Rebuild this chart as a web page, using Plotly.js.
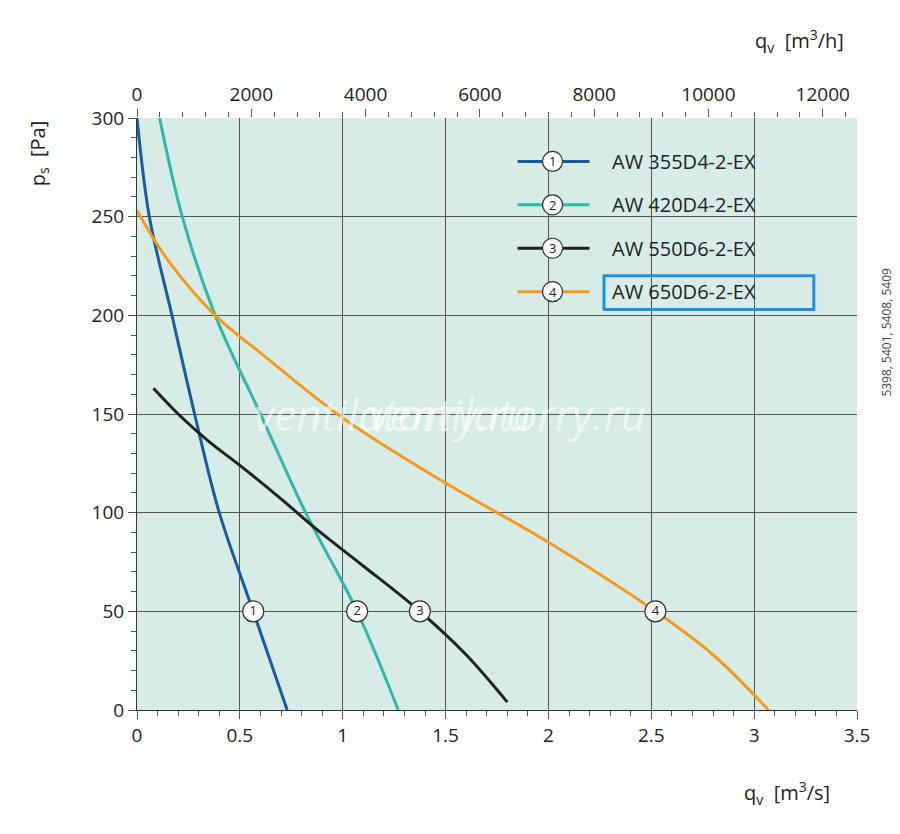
<!DOCTYPE html>
<html>
<head>
<meta charset="utf-8">
<script src="https://cdn.plot.ly/plotly-3.0.1.min.js"></script>
<style>body{margin:0;background:#fff}#chart{width:900px;height:834px}</style>
</head>
<body>
<div id="chart"></div>
<script>
// curve data: q_v [m3/s], p_s [Pa]
const names = ["AW 355D4-2-EX", "AW 420D4-2-EX", "AW 550D6-2-EX", "AW 650D6-2-EX"];
const colors = ["#1a5b9c", "#2fb8a8", "#222222", "#f39a1e"];
const q1 = [0.0, 0.06, 0.17, 0.28, 0.40, 0.565, 0.73];
const p1 = [300, 250, 200, 150, 100, 50, 0];
const q2 = [0.11, 0.22, 0.38, 0.60, 0.82, 1.07, 1.27];
const p2 = [300, 250, 200, 150, 100, 50, 0];
const q3 = [0.08, 0.2, 0.35, 0.5, 0.7, 0.88, 1.1, 1.375, 1.6, 1.8];
const p3 = [163, 150, 136, 124, 107, 91, 73, 50, 28, 4];
const q4 = [0.0, 0.15, 0.38, 0.6, 1.0, 1.5, 2.0, 2.52, 2.8, 3.07];
const p4 = [253, 228, 200, 181, 148, 115, 85, 50, 28, 0];
const labelQ = [0.565, 1.07, 1.375, 2.52];
const labelP = [50, 50, 50, 50];
const legendP = [278, 256, 234, 212];

const qs = [q1, q2, q3, q4], ps = [p1, p2, p3, p4];
const traces = qs.map((q, i) => ({
  x: q, y: ps[i], type: "scatter", mode: "lines",
  line: {color: colors[i], width: 3, shape: "spline"}, showlegend: false
}));
traces.push({
  x: labelQ, y: labelP, type: "scatter", mode: "markers+text",
  text: ["1", "2", "3", "4"], textposition: "middle center",
  textfont: {family: "Open Sans", size: 13, color: "#222"},
  marker: {size: 21, color: "#fff", line: {color: "#333", width: 1.2}},
  showlegend: false, cliponaxis: false
});
// legend rows
const shapes = [], annotations = [];
legendP.forEach((p, i) => {
  shapes.push({type: "line", x0: 1.85, x1: 2.2, y0: p, y1: p, line: {color: colors[i], width: 3}});
  shapes.push({type: "circle", xsizemode: "pixel", ysizemode: "pixel", xanchor: 2.02, yanchor: p,
    x0: -10, x1: 10, y0: -10, y1: 10, fillcolor: "#fff", line: {color: "#333", width: 1.2}});
  annotations.push({x: 2.02, y: p, text: String(i + 1), showarrow: false,
    font: {family: "Open Sans", size: 13, color: "#222"}});
  annotations.push({x: 2.3, y: p, xanchor: "left", text: names[i], showarrow: false,
    font: {family: "Open Sans", size: 20, color: "#222"}});
});
shapes.push({type: "rect", x0: 2.27, x1: 3.29, y0: 203, y1: 220, line: {color: "#1e90e0", width: 3}});
annotations.push({xref: "paper", yref: "paper", x: 1.055, y: 0.75, text: "5398, 5401, 5408, 5409",
  textangle: -90, showarrow: false, font: {family: "Open Sans", size: 12, color: "#444"}});
[0.16, 0.71].forEach(x => annotations.push({xref: "paper", yref: "paper", x: x, y: 0.5,
  text: "<i>ventilatorry.ru</i>", showarrow: false,
  font: {family: "Open Sans", size: 44, color: "rgba(255,255,255,0.6)"}}));
annotations.push({xref: "paper", yref: "paper", x: 0.965, y: -0.17, xanchor: "right",
  text: "q<sub>v</sub>  [m<sup>3</sup>/s]", showarrow: false, font: {family: "Open Sans", size: 20, color: "#222"}});
annotations.push({xref: "paper", yref: "paper", x: 0.985, y: 1.16, xanchor: "right",
  text: "q<sub>v</sub>  [m<sup>3</sup>/h]", showarrow: false, font: {family: "Open Sans", size: 20, color: "#222"}});
annotations.push({xref: "paper", yref: "paper", x: -0.16, y: 1.0, yanchor: "top", textangle: -90,
  text: "p<sub>s</sub>  [Pa]", showarrow: false, font: {family: "Open Sans", size: 20, color: "#222"}});
traces.push({x: [0], y: [0], xaxis: "x2", mode: "markers", marker: {opacity: 0}, showlegend: false, hoverinfo: "skip"});

const axFont = {family: "Open Sans", size: 19, color: "#222"};
const layout = {
  width: 900, height: 834,
  margin: {l: 137, r: 43, t: 118, b: 124},
  paper_bgcolor: "#fff", plot_bgcolor: "#d8ece7",
  font: {family: "Open Sans"},
  xaxis: {range: [0, 3.5], dtick: 0.5, tickfont: axFont, gridcolor: "#555", gridwidth: 1,
    zeroline: false, showline: true, linecolor: "#333",
    ticks: "outside", ticklen: 8, tickcolor: "#555", tickwidth: 1,
    minor: {dtick: 0.1, ticks: "outside", ticklen: 5, tickcolor: "#555", tickwidth: 1, showgrid: false}},
  xaxis2: {overlaying: "x", side: "top", range: [0, 12600], dtick: 2000, tickformat: "d", tickfont: axFont,
    showgrid: false, zeroline: false, ticks: "outside", ticklen: 8, tickcolor: "#555",
    minor: {dtick: 400, ticks: "outside", ticklen: 5, tickcolor: "#555"}},
  yaxis: {range: [0, 300], dtick: 50, tickfont: axFont, gridcolor: "#555", gridwidth: 1,
    zeroline: false, showline: true, linecolor: "#333",
    ticks: "outside", ticklen: 8, tickcolor: "#555", tickwidth: 1,
    minor: {dtick: 10, ticks: "outside", ticklen: 5, tickcolor: "#555", tickwidth: 1, showgrid: false}},
  shapes: shapes, annotations: annotations
};
Plotly.newPlot("chart", traces, layout, {staticPlot: true});
</script>
</body>
</html>
